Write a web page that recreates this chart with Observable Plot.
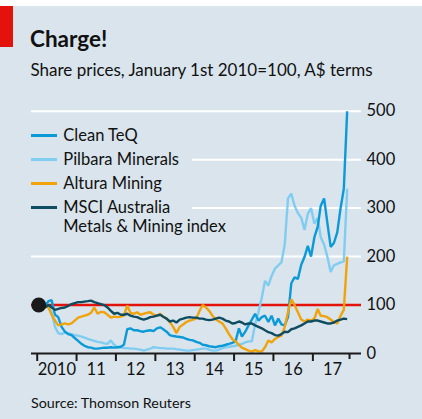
<!DOCTYPE html>
<html>
<head>
<meta charset="utf-8">
<script src="https://cdn.jsdelivr.net/npm/d3@7"></script>
<script src="https://cdn.jsdelivr.net/npm/@observablehq/plot@0.6"></script>
<style>
  html, body { margin: 0; padding: 0; background: #ffffff; }
  #wrap { position: relative; width: 422px; height: 419px; overflow: hidden; background: #ffffff;
          font-family: Lato, Roboto, sans-serif; color: #111; }
  #bg { position: absolute; left: 0; top: 6px; width: 422px; height: 413px; background: #d9e4ec; }
  #red { position: absolute; left: 0; top: 6px; width: 13px; height: 41px; background: #e3120b; z-index: 3; }
  #chart { position: absolute; left: 0; top: 0; z-index: 1; }
  .txt { position: absolute; line-height: 1; white-space: nowrap; z-index: 3; }
  #title { left: 30px; top: 27.5px; font-size: 22.5px; font-weight: 700; }
  #subtitle { left: 30.5px; top: 60.5px; font-size: 17px; }
  #source { left: 31px; top: 395.5px; font-size: 14.3px; }
  #legend { position: absolute; left: 29px; top: 121px; width: 162.5px; height: 121px; background: #d9e4ec; z-index: 2; }
  .item { position: absolute; left: 0; }
  .sw { position: absolute; left: 2px; width: 26px; height: 3px; }
  .lab { position: absolute; left: 34.3px; font-size: 16.5px; line-height: 18.5px; white-space: nowrap; }
</style>
</head>
<body>
<div id="wrap">
  <div id="bg"></div>
  <div id="red"></div>
  <div id="title" class="txt">Charge!</div>
  <div id="subtitle" class="txt">Share prices, January 1st 2010=100, A$ terms</div>
  <div id="legend"></div>
  <div id="chart"></div>
  <div id="source" class="txt">Source: Thomson Reuters</div>
</div>
<script>
// ---- Data (monthly, Jan 2010 – Nov 2017) ----
const seriesNames = ["Clean TeQ", "Pilbara Minerals", "Altura Mining", "MSCI Australia\nMetals & Mining index"];
const seriesColors = ["#0b9ad7", "#80cdf1", "#f0a30a", "#0e4c61"];

const cleanTeq = [100,102,98,108,110,80,75,55,45,40,38,32,26,20,16,13,12,10,10,11,12,12,13,12,
  13,14,18,50,52,48,48,46,45,47,48,46,52,54,50,45,38,36,35,34,33,30,28,27,
  24,22,18,17,15,14,13,15,16,18,20,22,25,52,35,45,58,70,82,68,75,78,65,78,
  58,72,60,58,75,145,157,154,183,199,222,200,240,262,305,320,270,220,228,250,300,340,500];

const pilbara = [100,102,98,95,85,55,42,40,44,42,40,38,37,35,33,30,28,26,24,23,21,20,27,18,
  13,12,11,11,10,10,9,8,6,8,10,13,12,11,11,10,10,10,9,8,7,6,6,7,
  8,9,10,10,8,6,6,8,11,13,14,15,16,18,20,23,25,25,60,85,115,150,140,160,
  175,182,188,225,320,330,305,290,280,255,288,300,268,280,240,225,200,168,182,185,188,190,340];

const altura = [100,100,98,95,80,68,58,60,62,60,62,68,74,76,78,80,84,95,82,86,85,80,74,76,
  75,76,78,99,84,82,85,80,82,84,85,80,78,82,76,72,65,55,42,55,60,65,68,70,
  72,88,100,95,88,78,70,66,62,52,40,30,25,18,12,9,6,4,7,5,4,13,27,23,
  30,34,37,55,85,112,100,85,70,66,70,68,72,92,78,77,75,70,65,62,78,90,200];

const msci = [100,98,95,100,95,90,92,94,95,98,102,104,106,106,107,108,109,106,104,102,100,95,88,82,
  84,80,80,82,78,76,75,72,70,72,75,76,78,80,76,72,66,68,64,70,72,74,75,74,
  74,72,72,70,69,70,72,74,72,68,66,62,63,66,64,60,62,62,58,55,52,48,44,42,
  38,37,40,45,44,50,52,55,58,62,66,66,68,68,66,64,62,62,64,68,70,72,71];

const yTicks = [0, 100, 200, 300, 400, 500];
const yearTicks = ["2010","2011","2012","2013","2014","2015","2016","2017"];
const yearLabels = ["2010","11","12","13","14","15","16","17"];
const endTick = ["2017-12-07"];
const baseValue = 100;
const startMonth = "2010-01-01", endMonth = "2017-12-01";

// ---- Build tables ----
const months = d3.utcMonths(new Date(startMonth), new Date(endMonth)).map(d => d3.utcDay.offset(d, 14));
const valueLists = [cleanTeq, pilbara, altura, msci];
const drawOrder = [1, 0, 2, 3];
const rows = drawOrder.flatMap(k => valueLists[k].map((v, i) => ({date: months[i], value: v, name: seriesNames[k]})));
const yearTickDates = yearTicks.map(y => new Date(y + "-01-01"));
const yearLabelRows = yearTicks.map((y, i) => ({date: new Date(y + "-07-02"), label: yearLabels[i]}));
const startPoint = [{date: months[0], value: baseValue}];

const FONT = 'Lato, Roboto, sans-serif';

const chart = Plot.plot({
  width: 422,
  height: 419,
  marginLeft: 31,
  marginRight: 61,
  marginTop: 110.7,
  marginBottom: 66,
  style: {background: "transparent", overflow: "visible", fontFamily: FONT, color: "#111"},
  x: {type: "utc", domain: [new Date("2009-11-09"), new Date("2018-03-28")], axis: null},
  y: {domain: [0, 500], axis: null},
  color: {domain: seriesNames, range: seriesColors},
  marks: [
    Plot.ruleY(yTicks.filter(d => d > 0), {stroke: "#ffffff", strokeWidth: 2}),
    Plot.axisY(yTicks, {anchor: "right", label: null, tickSize: 0, tickPadding: 5, fontSize: 16.5, fill: "#111", tickFormat: d => String(d)}),
    Plot.ruleY([baseValue], {stroke: "#e3120b", strokeWidth: 2.6}),
    Plot.line(rows, {x: "date", y: "value", z: "name", stroke: "name", strokeWidth: 2.4, strokeLinejoin: "miter", strokeLinecap: "butt"}),
    Plot.ruleY([0], {stroke: "#1a1a1a", strokeWidth: 2.2}),
    Plot.axisX(yearTickDates, {label: null, tickSize: 8, strokeWidth: 2, stroke: "#1a1a1a", tickFormat: () => ""}),
    Plot.axisX(endTick.map(d => new Date(d)), {label: null, tickSize: 6, strokeWidth: 2, stroke: "#1a1a1a", tickFormat: () => ""}),
    Plot.text(yearLabelRows, {x: "date", text: "label", frameAnchor: "bottom", dy: 21, fontSize: 16.5, fill: "#111"}),
    Plot.dot(startPoint, {x: "date", y: "value", r: 7.5, fill: "#1a1a1a", stroke: "none"})
  ]
});
document.getElementById("chart").appendChild(chart);

// ---- Legend ----
const legend = document.getElementById("legend");
const rowCenters = [14, 38.3, 62.3, 86.3];
seriesNames.forEach((name, k) => {
  const item = document.createElement("div");
  item.className = "item";
  item.style.top = "0px";
  const sw = document.createElement("div");
  sw.className = "sw";
  sw.style.background = seriesColors[k];
  sw.style.top = (rowCenters[k] - 1.5) + "px";
  const lab = document.createElement("div");
  lab.className = "lab";
  lab.style.top = (rowCenters[k] - 9.25) + "px";
  lab.innerHTML = name.split("\n").join("<br>");
  item.appendChild(sw);
  item.appendChild(lab);
  legend.appendChild(item);
});
</script>
</body>
</html>
